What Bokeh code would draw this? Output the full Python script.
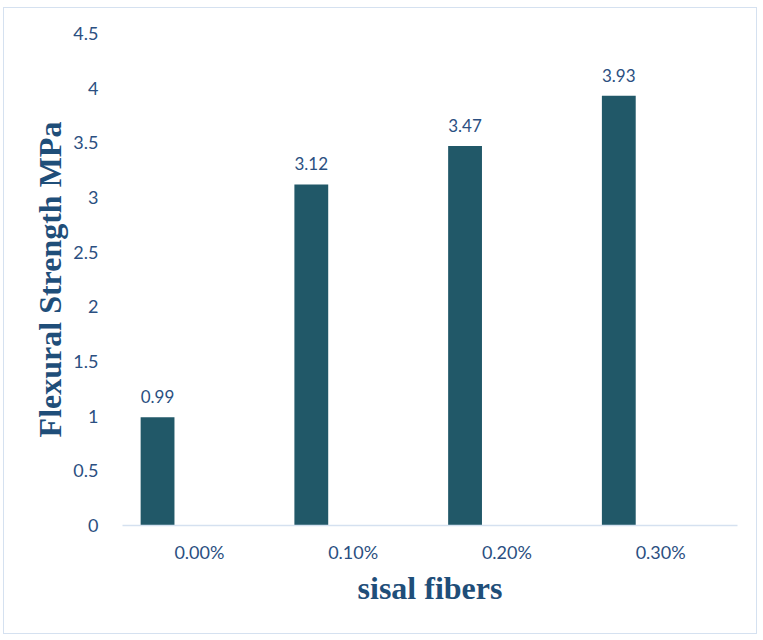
from bokeh.plotting import figure
from bokeh.models import ColumnDataSource, FactorRange, LabelSet
from bokeh.core.properties import value
from bokeh.transform import dodge
from bokeh.embed import file_html
from bokeh.resources import INLINE

categories = ["0.00%", "0.10%", "0.20%", "0.30%"]
strength = [0.99, 3.12, 3.47, 3.93]
labels = ["0.99", "3.12", "3.47", "3.93"]
y_ticks = [0, 0.5, 1, 1.5, 2, 2.5, 3, 3.5, 4, 4.5]

src = ColumnDataSource(dict(cat=categories, val=strength, lab=labels))

p = figure(x_range=FactorRange(*categories, range_padding=0), y_range=(0, 4.5),
           width=754, height=627, output_backend="svg", toolbar_location=None,
           min_border_left=118, min_border_right=21, min_border_top=25, min_border_bottom=110)
p.styles = {"border": "1.5px solid #D5E1F0", "margin-left": "3px", "margin-top": "7px"}
p.outline_line_color = None
p.xgrid.grid_line_color = None
p.ygrid.grid_line_color = None

p.vbar(x=dodge("cat", -0.272, range=p.x_range), top="val", width=0.22, source=src,
       fill_color="#215868", line_color=None)

lbl = LabelSet(x=dodge("cat", -0.272, range=p.x_range), y="val", text="lab", source=src,
               text_align="center", text_baseline="bottom", y_offset=14,
               text_font=value("Lato"), text_font_size="17px", text_color="#2B4F81")
p.add_layout(lbl)

tick_col = "#2B4F81"
p.yaxis.ticker = y_ticks
p.yaxis.axis_line_color = None
p.yaxis.major_tick_line_color = None
p.yaxis.minor_tick_line_color = None
p.yaxis.major_label_text_font = "Lato"
p.yaxis.major_label_text_font_size = "18px"
p.yaxis.major_label_text_color = tick_col
p.yaxis.major_label_standoff = 18
p.yaxis.axis_label = "Flexural Strength MPa"
p.yaxis.axis_label_text_font = "Liberation Serif"
p.yaxis.axis_label_text_font_style = "bold"
p.yaxis.axis_label_text_font_size = "32px"
p.yaxis.axis_label_text_color = "#1F4E79"
p.yaxis.axis_label_standoff = 2

p.xaxis.axis_line_color = "#D5E1F0"
p.xaxis.axis_line_width = 1.5
p.xaxis.major_tick_line_color = None
p.xaxis.minor_tick_line_color = None
p.xaxis.major_label_text_font = "Lato"
p.xaxis.major_label_text_font_size = "18px"
p.xaxis.major_label_text_color = tick_col
p.xaxis.major_label_standoff = 9
p.xaxis.axis_label = "sisal fibers"
p.xaxis.axis_label_text_font = "Liberation Serif"
p.xaxis.axis_label_text_font_style = "bold"
p.xaxis.axis_label_text_font_size = "32px"
p.xaxis.axis_label_text_color = "#1F4E79"
p.xaxis.axis_label_standoff = 4

open("out.html", "w").write(file_html(p, INLINE))
